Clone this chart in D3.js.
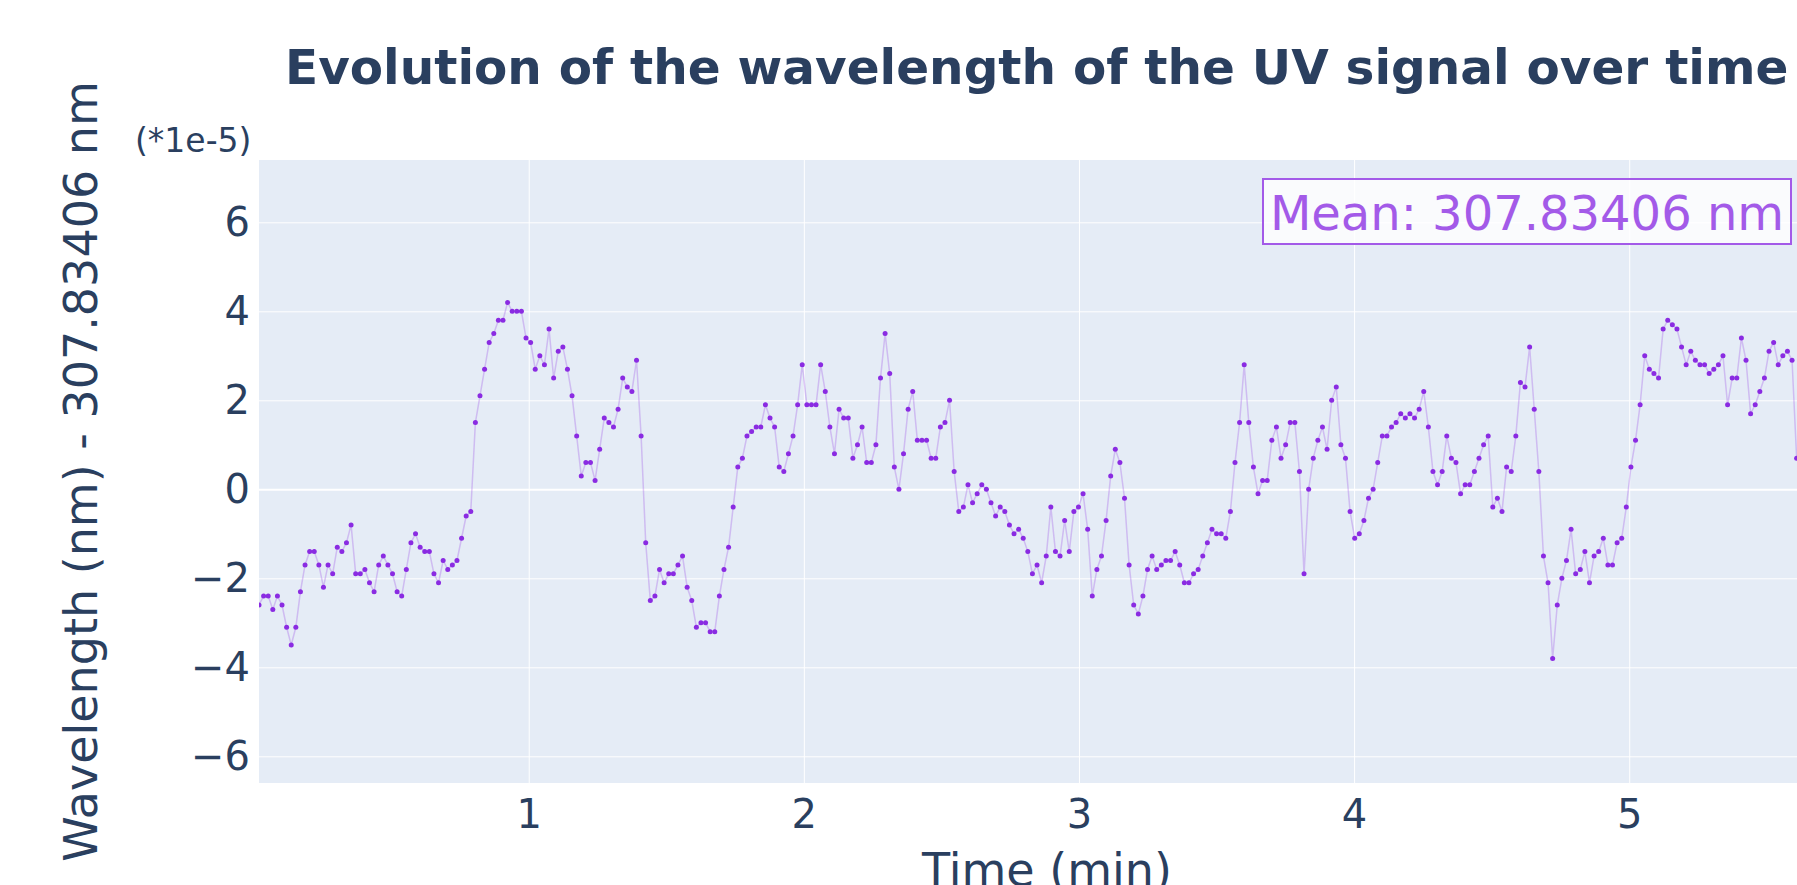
<!DOCTYPE html>
<html>
<head>
<meta charset="utf-8">
<script src="https://cdn.jsdelivr.net/npm/d3@7"></script>
<style>
  body { margin: 0; overflow: hidden; background: #fff; }
  text { font-family: "DejaVu Sans", Verdana, sans-serif; fill: #2a3f5f; }
</style>
</head>
<body>
<svg width="1797" height="885"></svg>
<script>
var svg = d3.select('svg');

// sampling of the signal (seconds)
var first_sample_s = 1.18;
var sample_step_s = 1.004;

// wavelength - mean, in units of 1e-5 nm, one value per sample
var wavelength_offset = [
  -2.6, -2.4, -2.4, -2.7, -2.4, -2.6, -3.1, -3.5, -3.1, -2.3, -1.7, -1.4, -1.4, -1.7, -2.2, -1.7, -1.9, -1.3, -1.4, -1.2,
  -0.8, -1.9, -1.9, -1.8, -2.1, -2.3, -1.7, -1.5, -1.7, -1.9, -2.3, -2.4, -1.8, -1.2, -1.0, -1.3, -1.4,
  -1.4, -1.9, -2.1, -1.6, -1.8, -1.7, -1.6, -1.1, -0.6, -0.5, 1.5, 2.1, 2.7, 3.3, 3.5, 3.8, 3.8, 4.2, 4.0, 4.0,
  4.0, 3.4, 3.3, 2.7, 3.0, 2.8, 3.6, 2.5, 3.1, 3.2, 2.7, 2.1, 1.2, 0.3, 0.6, 0.6, 0.2, 0.9,
  1.6, 1.5, 1.4, 1.8, 2.5, 2.3, 2.2, 2.9, 1.2, -1.2, -2.5, -2.4, -1.8, -2.1, -1.9, -1.9, -1.7, -1.5, -2.2, -2.5,
  -3.1, -3.0, -3.0, -3.2, -3.2, -2.4, -1.8, -1.3, -0.4, 0.5, 0.7, 1.2, 1.3, 1.4, 1.4, 1.9, 1.6,
  1.4, 0.5, 0.4, 0.8, 1.2, 1.9, 2.8, 1.9, 1.9, 1.9, 2.8, 2.2, 1.4, 0.8, 1.8, 1.6, 1.6, 0.7, 1.0, 1.4,
  0.6, 0.6, 1.0, 2.5, 3.5, 2.6, 0.5, 0.0, 0.8, 1.8, 2.2, 1.1, 1.1, 1.1, 0.7, 0.7, 1.4,
  1.5, 2.0, 0.4, -0.5, -0.4, 0.1, -0.3, -0.1, 0.1, 0.0, -0.3, -0.6, -0.4, -0.5, -0.8, -1.0, -0.9, -1.1, -1.4, -1.9,
  -1.7, -2.1, -1.5, -0.4, -1.4, -1.5, -0.7, -1.4, -0.5, -0.4, -0.1, -0.9, -2.4, -1.8, -1.5, -0.7, 0.3, 0.9,
  0.6, -0.2, -1.7, -2.6, -2.8, -2.4, -1.8, -1.5, -1.8, -1.7, -1.6, -1.6, -1.4, -1.7, -2.1, -2.1, -1.9, -1.8, -1.5, -1.2,
  -0.9, -1.0, -1.0, -1.1, -0.5, 0.6, 1.5, 2.8, 1.5, 0.5, -0.1, 0.2, 0.2, 1.1, 1.4, 0.7, 1.0,
  1.5, 1.5, 0.4, -1.9, 0.0, 0.7, 1.1, 1.4, 0.9, 2.0, 2.3, 1.0, 0.7, -0.5, -1.1, -1.0, -0.7, -0.2, 0.0, 0.6,
  1.2, 1.2, 1.4, 1.5, 1.7, 1.6, 1.7, 1.6, 1.8, 2.2, 1.4, 0.4, 0.1, 0.4, 1.2, 0.7, 0.6,
  -0.1, 0.1, 0.1, 0.4, 0.7, 1.0, 1.2, -0.4, -0.2, -0.5, 0.5, 0.4, 1.2, 2.4, 2.3, 3.2, 1.8, 0.4, -1.5, -2.1,
  -3.8, -2.6, -2.0, -1.6, -0.9, -1.9, -1.8, -1.4, -2.1, -1.5, -1.4, -1.1, -1.7, -1.7, -1.2, -1.1, -0.4, 0.5,
  1.1, 1.9, 3.0, 2.7, 2.6, 2.5, 3.6, 3.8, 3.7, 3.6, 3.2, 2.8, 3.1, 2.9, 2.8, 2.8, 2.6, 2.7, 2.8, 3.0,
  1.9, 2.5, 2.5, 3.4, 2.9, 1.7, 1.9, 2.2, 2.5, 3.1, 3.3, 2.8, 3.0, 3.1, 2.9, 0.7
];

var x_ticks = [1, 2, 3, 4, 5];
var y_ticks = [-6, -4, -2, 0, 2, 4, 6];
var mean_label = "Mean: 307.83406 nm";

// plot area
var plot_left = 259;
var plot_right = 1835;
var plot_top = 160;
var plot_bottom = 783;
var x_end_min = 5.748;

var points = wavelength_offset.map(function(v, i) {
  return { t: (first_sample_s + i * sample_step_s) / 60, v: v };
});

var x = d3.scaleLinear()
  .domain([points[0].t, x_end_min])
  .range([plot_left, plot_right]);

var y = d3.scaleLinear()
  .domain([-6.6, 7.4])
  .range([plot_bottom, plot_top]);

svg.append("rect")
  .attr("x", plot_left)
  .attr("y", plot_top)
  .attr("width", plot_right - plot_left)
  .attr("height", plot_bottom - plot_top)
  .attr("fill", "#e5ecf6");

svg.append("clipPath")
  .attr("id", "plot-clip")
  .append("rect")
  .attr("x", plot_left)
  .attr("y", plot_top)
  .attr("width", plot_right - plot_left)
  .attr("height", plot_bottom - plot_top);

//x axis with vertical grid lines
var x_axis = svg.append("g")
  .attr("transform", "translate(0," + plot_bottom + ")")
  .call(d3.axisBottom(x)
    .tickValues(x_ticks)
    .tickFormat(d3.format("d"))
    .tickSize(-(plot_bottom - plot_top))
    .tickPadding(17));

//y axis with horizontal grid lines
var y_axis = svg.append("g")
  .attr("transform", "translate(" + plot_left + ",0)")
  .call(d3.axisLeft(y)
    .tickValues(y_ticks)
    .tickFormat(d3.format("d"))
    .tickSize(-(plot_right - plot_left))
    .tickPadding(9));

svg.selectAll(".domain").remove();

svg.selectAll(".tick line")
  .attr("stroke", "#fff")
  .attr("stroke-width", 1);

y_axis.selectAll(".tick line")
  .filter(function(d) { return d === 0; })
  .attr("stroke-width", 2);

svg.selectAll(".tick text")
  .attr("font-family", '"DejaVu Sans", Verdana, sans-serif')
  .attr("font-size", 40)
  .attr("fill", "#2a3f5f");

// data line and markers
var data_g = svg.append("g")
  .attr("clip-path", "url(#plot-clip)");

var line = d3.line()
  .x(function(d) { return x(d.t); })
  .y(function(d) { return y(d.v); });

data_g.append("path")
  .datum(points)
  .attr("d", line)
  .attr("fill", "none")
  .attr("stroke", "#8a2be2")
  .attr("stroke-opacity", 0.25)
  .attr("stroke-width", 1.5);

data_g.selectAll("circle")
  .data(points)
  .enter()
  .append("circle")
  .attr("cx", function(d) { return x(d.t); })
  .attr("cy", function(d) { return y(d.v); })
  .attr("r", 2.5)
  .attr("fill", "#8a2be2");

// mean annotation
svg.append("rect")
  .attr("x", 1263)
  .attr("y", 179)
  .attr("width", 528)
  .attr("height", 65)
  .attr("fill", "rgba(255,255,255,0.8)")
  .attr("stroke", "#a35ae8")
  .attr("stroke-width", 2);

svg.append("text")
  .attr("x", 1527)
  .attr("y", 230)
  .attr("text-anchor", "middle")
  .attr("font-size", 48)
  .style("fill", "#a35ae8")
  .text(mean_label);

// titles
svg.append("text")
  .attr("x", 285)
  .attr("y", 84)
  .attr("font-size", 48.5)
  .attr("font-weight", "bold")
  .text("Evolution of the wavelength of the UV signal over time");

svg.append("text")
  .attr("x", 135)
  .attr("y", 152)
  .attr("font-size", 33)
  .text("(*1e-5)");

svg.append("text")
  .attr("transform", "translate(97," + ((plot_top + plot_bottom) / 2) + ") rotate(-90)")
  .attr("text-anchor", "middle")
  .attr("font-size", 46)
  .text("Wavelength (nm) - 307.83406 nm");

svg.append("text")
  .attr("x", (plot_left + plot_right) / 2)
  .attr("y", 886)
  .attr("text-anchor", "middle")
  .attr("font-size", 46)
  .text("Time (min)");
</script>
</body>
</html>
